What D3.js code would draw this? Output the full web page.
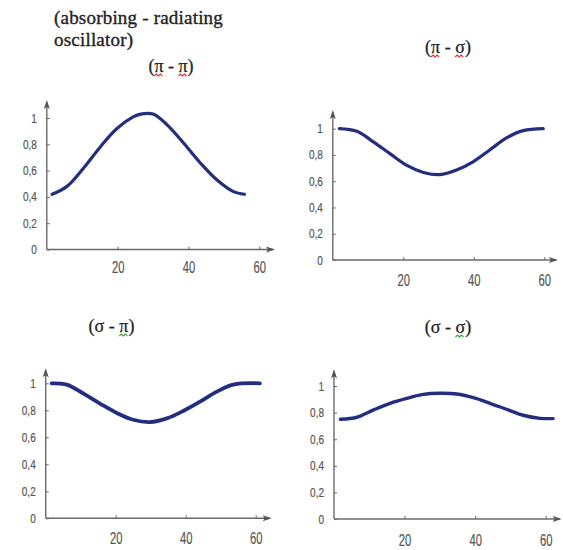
<!DOCTYPE html>
<html><head><meta charset="utf-8">
<script src="https://cdn.jsdelivr.net/npm/d3@7"></script>
<style>
html,body{margin:0;padding:0;background:#fff;}
svg{display:block;}
.serif{font-family:"Liberation Serif","Times New Roman",serif;}
.narrow{font-family:"Liberation Sans",Arial,sans-serif;}
</style></head>
<body>
<script>
// ---- data ----
const xTicks = [20, 40, 60];
const yTicks = [0, 0.2, 0.4, 0.6, 0.8, 1];
const yTickLabels = ["0", "0,2", "0,4", "0,6", "0,8", "1"];
const headerLines = ["(absorbing - radiating", "oscillator)"];
const panelTitles = ["(\u03C0 - \u03C0)", "(\u03C0 - \u03C3)", "(\u03C3 - \u03C0)", "(\u03C3 - \u03C3)"];

const piPiX = [1.5, 5.7, 10.4, 15.1, 19.8, 24.5, 26.5, 30, 33.9, 38.6, 43.3, 48, 52.7, 55.8];
const piPiY = [0.42, 0.48, 0.62, 0.78, 0.92, 1.01, 1.03, 1.03, 0.95, 0.81, 0.66, 0.53, 0.44, 0.42];

const piSigmaX = [1.85, 6.8, 11.5, 16.2, 21, 25.7, 30.4, 35.1, 39.9, 44.6, 49.3, 54, 59.7];
const piSigmaY = [1.0, 0.98, 0.90, 0.81, 0.72, 0.667, 0.65, 0.685, 0.75, 0.84, 0.93, 0.985, 1.0];

const sigmaPiX = [1.7, 6, 10.7, 15.5, 20.3, 25, 29.8, 34.6, 39.3, 44.1, 48.9, 53.6, 61.2];
const sigmaPiY = [1.0, 0.99, 0.925, 0.85, 0.78, 0.73, 0.713, 0.74, 0.795, 0.864, 0.938, 0.99, 1.0];

const sigmaSigmaX = [1.8, 6.5, 11.2, 15.9, 20.6, 25.3, 30, 34.8, 39.5, 44.2, 48.9, 53.6, 58.4, 62.1];
const sigmaSigmaY = [0.75, 0.765, 0.82, 0.87, 0.907, 0.937, 0.945, 0.94, 0.912, 0.87, 0.825, 0.78, 0.757, 0.755];

// squiggle marks (char index in title, colour)
const squiggles = [
  [[1, "#e03030"], [5, "#e03030"]],
  [[1, "#e03030"], [5, "#e03030"]],
  [[5, "#3aa040"]],
  [[5, "#3aa040"]]
];

// ---- layout ----
const W = 563, H = 550;
const panels = [
  {x: piPiX, y: piPiY, ox: 46.8, oy: 249.5, x60: 259.3, y1: 118, top: 100, right: 275, tx: 171, ty: 72, pad: 12, lw: 3.2},
  {x: piSigmaX, y: piSigmaY, ox: 332.8, oy: 260, x60: 544.3, y1: 128.7, top: 110, right: 558, tx: 448, ty: 53, pad: 14.5, lw: 3.2},
  {x: sigmaPiX, y: sigmaPiY, ox: 45.7, oy: 518.3, x60: 255.7, y1: 383.3, top: 368.3, right: 271.7, tx: 111.5, ty: 332, pad: 14.5, lw: 3.8},
  {x: sigmaSigmaX, y: sigmaSigmaY, ox: 334, oy: 519, x60: 545.7, y1: 386, top: 369.3, right: 561.7, tx: 448, ty: 333, pad: 15.5, lw: 3.4}
];

const svg = d3.select("body").append("svg").attr("width", W).attr("height", H);

// header
const header = svg.append("text").attr("class", "serif")
  .attr("font-size", 19).attr("letter-spacing", 0.2)
  .attr("fill", "#222").attr("stroke", "#222").attr("stroke-width", 0.35);
headerLines.forEach((t, i) => {
  header.append("tspan").attr("x", 54).attr("y", 24 + i * 22).text(t);
});

const lineColor = "#252e7e";
const axisColor = "#6a6a6a";
const labelColor = "#555";

function condense(sel, factor) {
  sel.each(function () {
    const w = this.getComputedTextLength();
    d3.select(this).attr("textLength", w * factor).attr("lengthAdjust", "spacingAndGlyphs");
  });
}

panels.forEach((p, i) => {
  const x = d3.scaleLinear().domain([0, 60]).range([p.ox, p.x60]);
  const y = d3.scaleLinear().domain([0, 1]).range([p.oy, p.y1]);
  const g = svg.append("g");

  // title
  const t = g.append("text").attr("class", "serif")
    .attr("x", p.tx).attr("y", p.ty).attr("text-anchor", "middle")
    .attr("font-size", 18).attr("fill", "#222").attr("stroke", "#222").attr("stroke-width", 0.25)
    .text(panelTitles[i]);
  squiggles[i].forEach(([ci, col]) => {
    const ext = t.node().getExtentOfChar(ci);
    const x0 = ext.x, x1 = ext.x + ext.width, yb = p.ty + 4;
    let d = `M${x0},${yb}`;
    let up = true;
    for (let xx = x0 + 2; xx <= x1 + 0.1; xx += 2) { d += `L${xx},${yb + (up ? -2 : 0)}`; up = !up; }
    g.append("path").attr("d", d).attr("fill", "none").attr("stroke", col).attr("stroke-width", 1.1);
  });

  // y axis
  const ya = g.append("g").attr("transform", `translate(${p.ox},0)`)
    .call(d3.axisLeft(y).tickValues(yTicks).tickFormat((d, k) => yTickLabels[k]).tickSize(-3).tickPadding(10))
    .attr("font-family", null).attr("font-size", null);
  ya.select(".domain").remove();
  ya.selectAll("line").attr("stroke", axisColor);
  ya.selectAll("text").attr("class", "narrow")
    .attr("font-size", 12.5).attr("fill", labelColor).attr("stroke", labelColor).attr("stroke-width", 0.2);
  condense(ya.selectAll("text"), 0.8);

  // x axis
  const xa = g.append("g").attr("transform", `translate(0,${p.oy})`)
    .call(d3.axisBottom(x).tickValues(xTicks).tickSize(-3).tickPadding(p.pad))
    .attr("font-family", null).attr("font-size", null);
  xa.select(".domain").remove();
  xa.selectAll("line").attr("stroke", axisColor);
  xa.selectAll("text").attr("class", "narrow")
    .attr("font-size", 16).attr("fill", labelColor).attr("stroke", labelColor).attr("stroke-width", 0.2);
  condense(xa.selectAll("text"), 0.7);

  // axis lines with arrows
  g.append("line").attr("x1", p.ox).attr("y1", p.oy).attr("x2", p.ox).attr("y2", p.top + 2)
    .attr("stroke", axisColor).attr("stroke-width", 1.4);
  g.append("line").attr("x1", p.ox).attr("y1", p.oy).attr("x2", p.right - 2).attr("y2", p.oy)
    .attr("stroke", axisColor).attr("stroke-width", 1.4);
  g.append("path").attr("d", `M${p.ox},${p.top}L${p.ox - 3},${p.top + 9}L${p.ox},${p.top + 7}L${p.ox + 3},${p.top + 9}Z`)
    .attr("fill", "#555");
  g.append("path").attr("d", `M${p.right},${p.oy}L${p.right - 9},${p.oy - 3}L${p.right - 7},${p.oy}L${p.right - 9},${p.oy + 3}Z`)
    .attr("fill", "#555");

  // curve
  const pts = p.x.map((v, k) => [v, p.y[k]]);
  g.append("path").datum(pts)
    .attr("d", d3.line().x(d => x(d[0])).y(d => y(d[1])).curve(d3.curveCatmullRom.alpha(0.5)))
    .attr("fill", "none").attr("stroke", lineColor).attr("stroke-width", p.lw)
    .attr("stroke-linecap", "round").attr("stroke-linejoin", "round");
});
</script>
</body></html>
